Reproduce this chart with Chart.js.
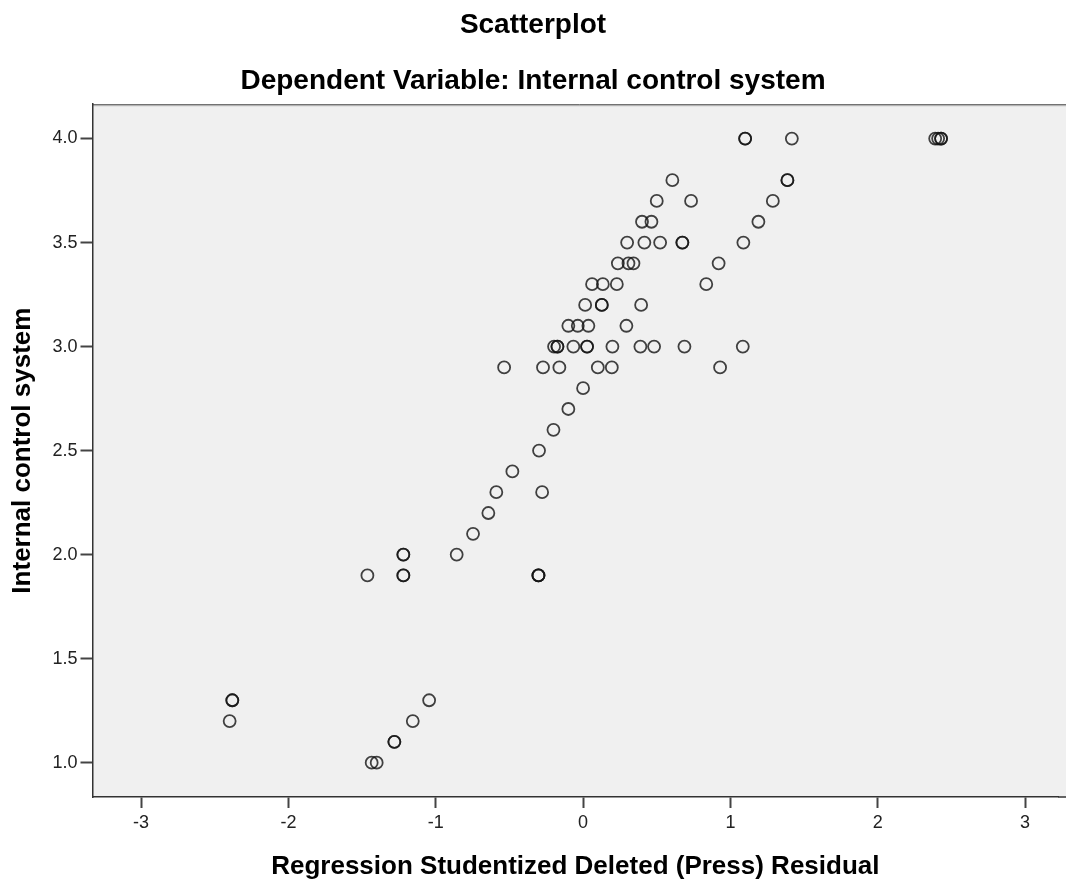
<!DOCTYPE html>
<html>
<head>
<meta charset="utf-8">
<script src="https://cdn.jsdelivr.net/npm/chart.js@4.4.1/dist/chart.umd.min.js"></script>
<style>
  body { margin: 0; background: #fff; }
  #wrap { width: 1066px; height: 886px; }
</style>
</head>
<body>
<div id="wrap"><canvas id="scatterChart" width="1066" height="886"></canvas></div>
<script>
// residuals (x) and internal control scores (y)
var residuals = [
  1.10, 1.10, 1.417, 2.39, 2.41, 2.43, 2.43,
  0.606, 1.387, 1.387,
  0.500, 0.733, 1.288,
  0.400, 0.464, 1.190,
  0.299, 0.416, 0.523, 0.674, 0.674, 1.088,
  0.236, 0.308, 0.342, 0.920,
  0.061, 0.134, 0.229, 0.836,
  0.014, 0.127, 0.127, 0.394,
  -0.100, -0.036, 0.036, 0.294,
  -0.197, -0.174, -0.174, -0.066, 0.027, 0.027, 0.199, 0.389, 0.482, 0.688, 1.084,
  -0.536, -0.272, -0.161, 0.100, 0.195, 0.930,
  0.000,
  -0.100,
  -0.201,
  -0.299,
  -0.480,
  -0.589, -0.278,
  -0.643,
  -0.747,
  -0.858, -1.220, -1.220,
  -1.464, -1.220, -1.220, -0.303, -0.303, -0.303,
  -2.381, -2.381, -1.045,
  -2.399, -1.156,
  -1.281, -1.281,
  -1.435, -1.401
];
var controlScores = [
  4.0, 4.0, 4.0, 4.0, 4.0, 4.0, 4.0,
  3.8, 3.8, 3.8,
  3.7, 3.7, 3.7,
  3.6, 3.6, 3.6,
  3.5, 3.5, 3.5, 3.5, 3.5, 3.5,
  3.4, 3.4, 3.4, 3.4,
  3.3, 3.3, 3.3, 3.3,
  3.2, 3.2, 3.2, 3.2,
  3.1, 3.1, 3.1, 3.1,
  3.0, 3.0, 3.0, 3.0, 3.0, 3.0, 3.0, 3.0, 3.0, 3.0, 3.0,
  2.9, 2.9, 2.9, 2.9, 2.9, 2.9,
  2.8,
  2.7,
  2.6,
  2.5,
  2.4,
  2.3, 2.3,
  2.2,
  2.1,
  2.0, 2.0, 2.0,
  1.9, 1.9, 1.9, 1.9, 1.9, 1.9,
  1.3, 1.3, 1.3,
  1.2, 1.2,
  1.1, 1.1,
  1.0, 1.0
];
var xTicks = [-3, -2, -1, 0, 1, 2, 3];
var yTicks = [1.0, 1.5, 2.0, 2.5, 3.0, 3.5, 4.0];

var fontFamily = "'Liberation Sans', Arial, sans-serif";

var points = residuals.map(function (r, i) {
  return { x: r, y: controlScores[i] };
});

// grey plot background plus the top frame line, run out to the canvas edge
var plotFrame = {
  id: 'plotFrame',
  beforeDraw: function (chart) {
    var a = chart.chartArea, ctx = chart.ctx, w = chart.width;
    ctx.save();
    ctx.fillStyle = '#f0f0f0';
    ctx.fillRect(a.left, a.top, w - a.left, a.bottom - a.top);
    ctx.lineWidth = 1;
    ctx.strokeStyle = '#555';
    ctx.beginPath();
    ctx.moveTo(a.left, a.top + 0.5);
    ctx.lineTo(w, a.top + 0.5);
    ctx.stroke();
    ctx.strokeStyle = '#aaa';
    ctx.beginPath();
    ctx.moveTo(a.left, a.top + 1.5);
    ctx.lineTo(w, a.top + 1.5);
    ctx.stroke();
    ctx.restore();
  },
  afterDraw: function (chart) {
    var a = chart.chartArea, ctx = chart.ctx;
    ctx.save();
    ctx.strokeStyle = '#333';
    ctx.lineWidth = 1.5;
    ctx.beginPath();
    ctx.moveTo(a.right, a.bottom);
    ctx.lineTo(chart.width, a.bottom);
    ctx.stroke();
    ctx.restore();
  }
};

var ctx = document.getElementById('scatterChart').getContext('2d');
window.scatterChart = new Chart(ctx, {
  type: 'scatter',
  data: {
    datasets: [{
      data: points,
      pointStyle: 'circle',
      pointRadius: 6,
      pointBorderWidth: 1.8,
      borderColor: 'rgba(20,20,20,0.8)',
      backgroundColor: 'rgba(0,0,0,0)'
    }]
  },
  options: {
    responsive: false,
    animation: false,
    layout: { padding: 0 },
    plugins: {
      legend: { display: false },
      tooltip: { enabled: false },
      title: {
        display: true,
        text: 'Scatterplot',
        color: '#000',
        font: { family: fontFamily, size: 28, weight: 'bold' },
        padding: { top: 8, bottom: 23 }
      },
      subtitle: {
        display: true,
        text: 'Dependent Variable: Internal control system',
        color: '#000',
        font: { family: fontFamily, size: 28, weight: 'bold' },
        padding: { top: 0, bottom: 6 }
      }
    },
    scales: {
      x: {
        type: 'linear',
        min: -3.33,
        max: 3.225,
        afterFit: function (scale) {
          scale.height = 89;
        },
        afterBuildTicks: function (scale) {
          scale.ticks = xTicks.map(function (v) { return { value: v }; });
        },
        ticks: {
          color: '#222',
          padding: 4,
          font: { family: fontFamily, size: 18 },
          callback: function (v) { return String(v); }
        },
        grid: { drawOnChartArea: false, tickLength: 11, tickColor: '#444', tickWidth: 2 },
        border: { display: true, color: '#333', width: 1.5 },
        title: {
          display: true,
          text: 'Regression Studentized Deleted (Press) Residual',
          color: '#000',
          font: { family: fontFamily, size: 26, weight: 'bold' },
          padding: { top: 0, bottom: 4 }
        }
      },
      y: {
        type: 'linear',
        min: 0.835,
        max: 4.165,
        afterFit: function (scale) {
          scale.width = 92.5;
        },
        afterBuildTicks: function (scale) {
          scale.ticks = yTicks.map(function (v) { return { value: v }; });
        },
        ticks: {
          color: '#222',
          padding: 3,
          font: { family: fontFamily, size: 18 },
          callback: function (v) { return Number(v).toFixed(1); }
        },
        grid: { drawOnChartArea: false, tickLength: 12, tickColor: '#444', tickWidth: 2 },
        border: { display: true, color: '#333', width: 1.5 },
        title: {
          display: true,
          text: 'Internal control system',
          color: '#000',
          font: { family: fontFamily, size: 26, weight: 'bold' },
          padding: { top: 7, bottom: 0 }
        }
      }
    }
  },
  plugins: [plotFrame]
});
</script>
</body>
</html>
